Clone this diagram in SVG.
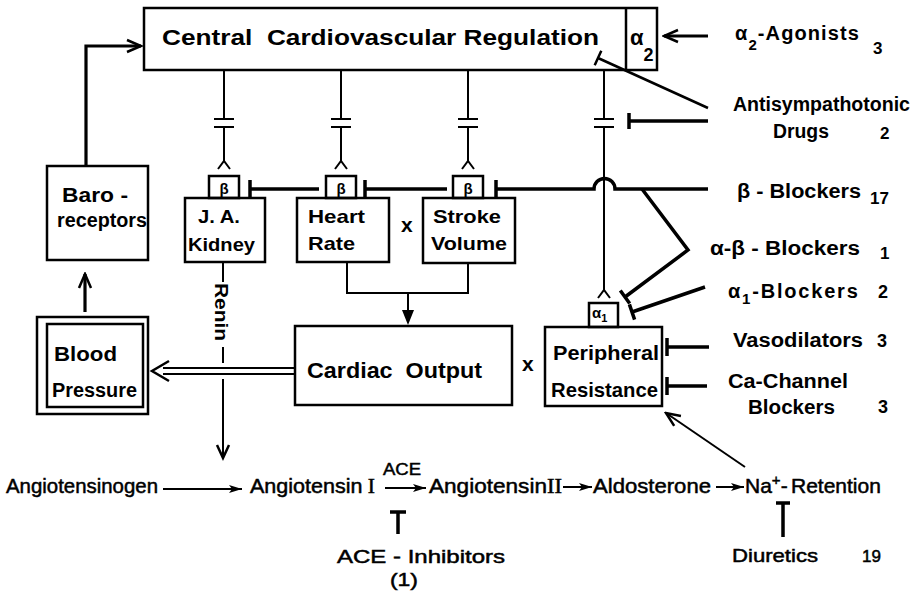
<svg xmlns="http://www.w3.org/2000/svg" width="916" height="591" viewBox="0 0 916 591">
<defs>
<style>
.box{fill:none;stroke:#000;stroke-width:2.5}
.ln{fill:none;stroke:#000;stroke-width:2}
.thk{fill:none;stroke:#000;stroke-width:3.2}
.inh{fill:none;stroke:#000;stroke-width:3.5}
.t{font-family:"Liberation Sans",Arial,sans-serif;font-weight:bold;fill:#000}
.r{font-family:"Liberation Sans",Arial,sans-serif;fill:#000;stroke:#000;stroke-width:0.5}
</style>
<marker id="open" markerUnits="userSpaceOnUse" markerWidth="18" markerHeight="16" viewBox="0 0 18 16" refX="16" refY="8" orient="auto"><path d="M2,2 L16,8 L2,14" fill="none" stroke="#000" stroke-width="2.5"/></marker>
<marker id="fa" markerUnits="userSpaceOnUse" markerWidth="13" markerHeight="9" viewBox="0 0 13 9" refX="13" refY="4.5" orient="auto"><path d="M0,0.5 L13,4.5 L0,8.5 L3,4.5 Z" fill="#000"/></marker>
</defs>
<rect width="916" height="591" fill="#fff"/>

<g id="connectors">
  <path class="thk" d="M86,166 V46 H141" marker-end="url(#open)"/>
  <line class="thk" x1="85" y1="312" x2="85" y2="274" marker-end="url(#open)"/>
  <g class="ln">
    <path d="M224,70 V119 M214,119 H234 M214,127 H234 M224,127 V161 M218,169 L224,161 L230,169"/>
    <path d="M341,70 V119 M331,119 H351 M331,127 H351 M341,127 V161 M335,169 L341,161 L347,169"/>
    <path d="M468,70 V119 M458,119 H478 M458,127 H478 M468,127 V161 M462,169 L468,161 L474,169"/>
    <path d="M604,70 V119 M594,119 H614 M594,127 H614 M604,127 V290 M598,298 L604,290 L610,298"/>
  </g>
  <line class="thk" x1="708" y1="36" x2="664" y2="36" marker-end="url(#open)"/>
  <path class="ln" d="M708,108 L598,58 M601.3,50.7 L594.7,65.3" style="stroke-width:2.5"/>
  <path class="inh" d="M708,121 H629 M629,113 V129"/>
  <path class="inh" d="M319,189 H250 M250,180 V198"/>
  <path class="inh" d="M447,189 H365 M365,180 V198"/>
  <path class="inh" d="M708,189 H615 A10,10 0 0 0 594,189 H496 M496,180 V198"/>
  <path class="inh" d="M642,189 L688,250 L625,297 M629.7,303.5 L620.3,290.5"/>
  <path class="inh" d="M705,287 L632,312 M634.6,319.6 L629.4,304.4"/>
  <path class="inh" d="M709,347 H667 M667,338 V356"/>
  <path class="inh" d="M707,386 H667 M667,377 V395"/>
  <path class="ln" d="M347,262 V293 H468 V263 M408,293 V312"/>
  <path d="M402,310 L414,310 L408,325 Z" fill="#000"/>
  <path class="ln" d="M295,368 H163 M295,374 H163"/>
  <path class="ln" d="M169,361 L152,371 L169,381" style="stroke-width:2.5"/>
  <path class="ln" d="M223,262 V282 M223,347 V363 M223,379 V456"/>
  <path class="ln" d="M217,445 L223,458 L229,445" style="stroke-width:2.5"/>
  <line class="ln" x1="745" y1="467" x2="666" y2="413" marker-end="url(#open)"/>
  <line class="ln" x1="163" y1="489" x2="242" y2="489" marker-end="url(#fa)"/>
  <line class="ln" x1="385" y1="488" x2="426" y2="488" marker-end="url(#fa)"/>
  <line class="ln" x1="563" y1="487" x2="592" y2="487" marker-end="url(#fa)"/>
  <line class="ln" x1="716" y1="487" x2="744" y2="487" marker-end="url(#fa)"/>
  <path class="inh" d="M390,512 H406 M398,512 V534"/>
  <path class="inh" d="M776,503 H790 M783,503 V537"/>
</g>

<g id="central">
  <rect class="box" x="144" y="8" width="513" height="62"/>
  <line class="box" x1="626" y1="8" x2="626" y2="70"/>
  <text class="t" x="162" y="45" font-size="22" xml:space="preserve" textLength="437" lengthAdjust="spacingAndGlyphs">Central  Cardiovascular Regulation</text>
  <text class="t" x="630" y="45" font-size="22">α<tspan font-size="18" dy="16">2</tspan></text>
</g>
<g id="baroreceptors">
  <rect class="box" x="47" y="166" width="101" height="94"/>
  <text class="t" x="62" y="202" font-size="20" textLength="66" lengthAdjust="spacingAndGlyphs">Baro -</text>
  <text class="t" x="57" y="227" font-size="20" textLength="90" lengthAdjust="spacingAndGlyphs">receptors</text>
</g>
<g id="blood-pressure">
  <rect class="box" x="37" y="317" width="111" height="97"/>
  <rect class="box" x="47" y="324" width="96" height="83"/>
  <text class="t" x="54" y="361" font-size="20" textLength="63" lengthAdjust="spacingAndGlyphs">Blood</text>
  <text class="t" x="52" y="397" font-size="20" textLength="85" lengthAdjust="spacingAndGlyphs">Pressure</text>
</g>
<g id="ja-kidney">
  <rect class="box" x="209" y="176" width="30" height="22"/>
  <text class="t" x="224" y="194" font-size="15" text-anchor="middle">β</text>
  <rect class="box" x="185" y="198" width="80" height="64"/>
  <text class="t" x="198" y="223" font-size="19" xml:space="preserve" textLength="42" lengthAdjust="spacingAndGlyphs">J. A.</text>
  <text class="t" x="188" y="251" font-size="19" textLength="67" lengthAdjust="spacingAndGlyphs">Kidney</text>
</g>
<g id="heart-rate">
  <rect class="box" x="326" y="176" width="30" height="22"/>
  <text class="t" x="341" y="194" font-size="15" text-anchor="middle">β</text>
  <rect class="box" x="297" y="198" width="92" height="64"/>
  <text class="t" x="308" y="223" font-size="19" textLength="57" lengthAdjust="spacingAndGlyphs">Heart</text>
  <text class="t" x="308" y="250" font-size="19" textLength="47" lengthAdjust="spacingAndGlyphs">Rate</text>
</g>
<text class="t" x="401" y="232" font-size="21">x</text>
<g id="stroke-volume">
  <rect class="box" x="453" y="176" width="30" height="22"/>
  <text class="t" x="468" y="194" font-size="15" text-anchor="middle">β</text>
  <rect class="box" x="423" y="198" width="92" height="65"/>
  <text class="t" x="433" y="223" font-size="19" textLength="68" lengthAdjust="spacingAndGlyphs">Stroke</text>
  <text class="t" x="431" y="250" font-size="19" textLength="76" lengthAdjust="spacingAndGlyphs">Volume</text>
</g>
<g id="cardiac-output">
  <rect class="box" x="295" y="326" width="217" height="79"/>
  <text class="t" x="307" y="378" font-size="22" xml:space="preserve" textLength="175" lengthAdjust="spacingAndGlyphs">Cardiac  Output</text>
</g>
<text class="t" x="522" y="371" font-size="21">x</text>
<g id="peripheral-resistance">
  <rect class="box" x="589" y="303" width="29" height="24"/>
  <text class="t" x="592" y="318" font-size="15">α<tspan font-size="11" dy="4">1</tspan></text>
  <rect class="box" x="545" y="327" width="117" height="79"/>
  <text class="t" x="553" y="360" font-size="21" textLength="106" lengthAdjust="spacingAndGlyphs">Peripheral</text>
  <text class="t" x="551" y="397" font-size="21" textLength="107" lengthAdjust="spacingAndGlyphs">Resistance</text>
</g>
<g id="renin">
  <text class="t" transform="translate(215,283) rotate(90)" font-size="19" textLength="58" lengthAdjust="spacingAndGlyphs">Renin</text>
</g>

<g id="drugs">
  <text class="t" x="735" y="40" font-size="20" letter-spacing="1.1">α<tspan font-size="15" dy="10">2</tspan><tspan dy="-10">-Agonists</tspan></text>
  <text class="t" x="873" y="54" font-size="17">3</text>
  <text class="t" x="733" y="111" font-size="20" textLength="177" lengthAdjust="spacingAndGlyphs">Antisympathotonic</text>
  <text class="t" x="773" y="138" font-size="20" textLength="56" lengthAdjust="spacingAndGlyphs">Drugs</text>
  <text class="t" x="880" y="139" font-size="17">2</text>
  <text class="t" x="737" y="198" font-size="20" xml:space="preserve" textLength="124" lengthAdjust="spacingAndGlyphs">β - Blockers</text>
  <text class="t" x="870" y="204" font-size="17">17</text>
  <text class="t" x="710" y="255" font-size="20" textLength="150" lengthAdjust="spacingAndGlyphs">α-β - Blockers</text>
  <text class="t" x="880" y="259" font-size="17">1</text>
  <text class="t" x="728" y="298" font-size="20" letter-spacing="1.8">α<tspan font-size="15" dy="6">1</tspan><tspan dy="-6">-Blockers</tspan></text>
  <text class="t" x="878" y="298" font-size="18">2</text>
  <text class="t" x="733" y="347" font-size="20" textLength="130" lengthAdjust="spacingAndGlyphs">Vasodilators</text>
  <text class="t" x="877" y="347" font-size="18">3</text>
  <text class="t" x="728" y="388" font-size="20" textLength="120" lengthAdjust="spacingAndGlyphs">Ca-Channel</text>
  <text class="t" x="748" y="414" font-size="20" textLength="87" lengthAdjust="spacingAndGlyphs">Blockers</text>
  <text class="t" x="878" y="413" font-size="18">3</text>
</g>

<g id="raas">
  <text class="r" x="6" y="493" font-size="21" textLength="152" lengthAdjust="spacingAndGlyphs">Angiotensinogen</text>
  <text class="r" x="250" y="493" font-size="21" textLength="125" lengthAdjust="spacingAndGlyphs">Angiotensin<tspan font-family="Liberation Serif, serif"> I</tspan></text>
  <text class="r" x="383" y="475" font-size="17" textLength="38" lengthAdjust="spacingAndGlyphs">ACE</text>
  <text class="r" x="429" y="493" font-size="21" textLength="133" lengthAdjust="spacingAndGlyphs">Angiotensin<tspan font-family="Liberation Serif, serif">II</tspan></text>
  <text class="r" x="593" y="493" font-size="21" textLength="118" lengthAdjust="spacingAndGlyphs">Aldosterone</text>
  <text class="r" x="745" y="493" font-size="21">Na<tspan font-size="15" dy="-8">+</tspan><tspan dy="8">-</tspan><tspan x="791">Retention</tspan></text>
  <text class="r" x="337" y="563" font-size="19" xml:space="preserve" textLength="168" lengthAdjust="spacingAndGlyphs">ACE - Inhibitors</text>
  <text class="r" x="390" y="586" font-size="19" textLength="28" lengthAdjust="spacingAndGlyphs">(1)</text>
  <text class="r" x="732" y="562" font-size="19" textLength="86" lengthAdjust="spacingAndGlyphs">Diuretics</text>
  <text class="r" x="862" y="562" font-size="17">19</text>
</g>
</svg>
